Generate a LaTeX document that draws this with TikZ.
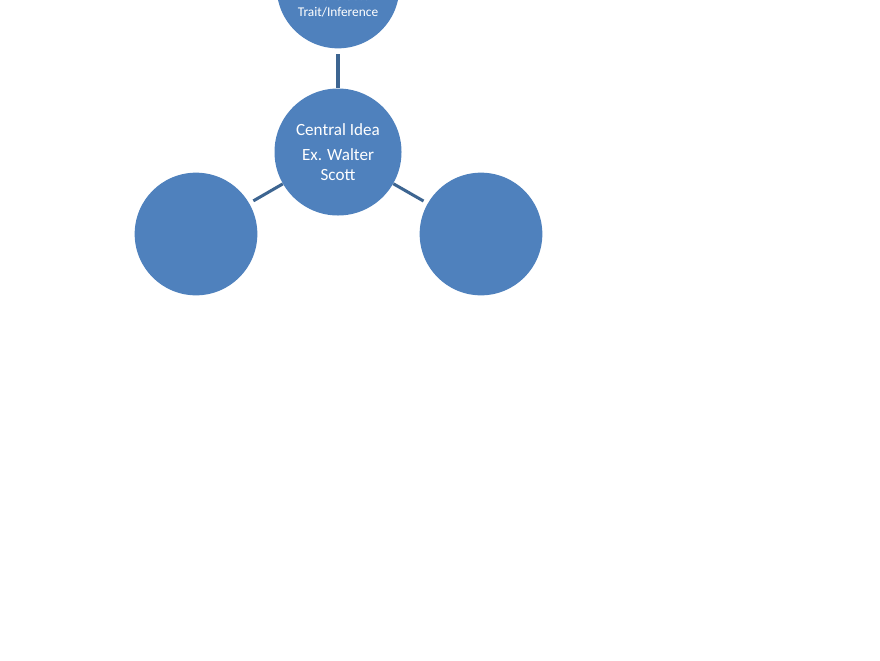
\documentclass[tikz,border=0pt]{standalone}
\usepackage{fontspec}
\setmainfont{Carlito}
\definecolor{bubble}{HTML}{4F81BD}
\definecolor{link}{HTML}{3D6591}
\begin{document}
\begin{tikzpicture}[x=0.03cm, y=-0.03cm,
    idea/.style={circle, fill=bubble, draw=none, text=white, align=center, inner sep=0pt},
    spoke/.style={draw=link, line width=2.6pt}]
        % Fix the page size
        \useasboundingbox (0,0) rectangle (880,660);
        \clip (0,0) rectangle (880,660);
        
        % Central bubble
        \node[idea, minimum size=3.81cm, font=\fontsize{14.6}{17}\selectfont] (central) at (338,152)
            {Central Idea\\[4pt]Ex. Walter\\Scott};
        
        % Outer bubbles
        \node[idea, minimum size=3.68cm] (top) at (338,-13) {};
        \node[idea, minimum size=3.68cm] (left) at (196,234) {};
        \node[idea, minimum size=3.68cm] (right) at (481,234) {};
        
        % Text of the top bubble (its upper part is off the page)
        \node[text=white, align=center, font=\fontsize{11.4}{13.6}\selectfont] (toptext) at (338,4.5)
            {Ex: Character\\Trait/Inference};
        
        % Spokes
        \draw[spoke, shorten <=5pt] (top) -- (central);
        \draw[spoke, shorten <=4pt] (left) -- (central);
        \draw[spoke, shorten <=4pt] (right) -- (central);
        
    \end{tikzpicture}
\end{document}
